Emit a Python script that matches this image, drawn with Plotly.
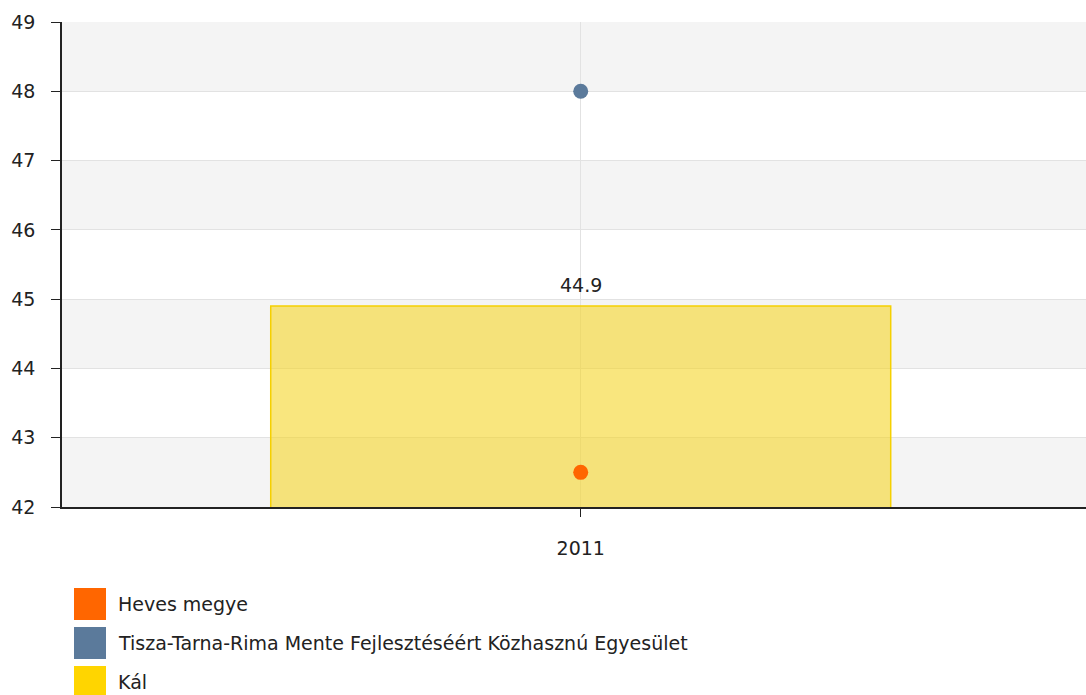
import plotly.graph_objects as go

# Data
years = ["2011"]
series_names = ["Heves megye", "Tisza-Tarna-Rima Mente Fejlesztéséért Közhasznú Egyesület", "Kál"]
heves = [42.5]
tisza = [48.0]
kal = [44.9]
colors = ["#FF6600", "#5B7A9B", "#FFD500"]
y_ticks = [42, 43, 44, 45, 46, 47, 48, 49]

x_pos = list(range(len(years)))
font_family = "DejaVu Sans, Verdana, sans-serif"

W, H = 1086, 695
L, T, B = 62, 22, 188
PW, PH = W - L, H - T - B


def px_x(px):
    return (px - L) / PW


def px_y(py):
    return (H - B - py) / PH


fig = go.Figure()

fig.add_trace(go.Bar(
    x=x_pos, y=kal, name=series_names[2], width=0.6,
    marker=dict(color="rgba(245,213,40,0.6)", line=dict(color="#F5D000", width=1.5)),
    showlegend=False,
))
fig.add_trace(go.Scatter(
    x=x_pos, y=heves, name=series_names[0], mode="markers",
    marker=dict(color=colors[0], size=15), showlegend=False,
))
fig.add_trace(go.Scatter(
    x=x_pos, y=tisza, name=series_names[1], mode="markers",
    marker=dict(color=colors[1], size=15), showlegend=False,
))

annotations = []
# value label above the bar
for xp, v in zip(x_pos, kal):
    annotations.append(dict(x=xp, y=v, xref="x", yref="y", text=f"{v:.1f}", showarrow=False,
                            yanchor="bottom", yshift=8,
                            font=dict(size=19, color="#222", family=font_family)))

# alternating background bands
shapes = []
for lo in y_ticks[:-1]:
    if (lo - y_ticks[0]) % 2 == 0:
        shapes.append(dict(type="rect", xref="paper", yref="y", x0=0, x1=1, y0=lo, y1=lo + 1,
                           fillcolor="#F4F4F4", line=dict(width=0), layer="below"))

# legend drawn as swatches with labels
for i, name in enumerate(series_names):
    yc = 604 + 39 * i
    shapes.append(dict(type="rect", xref="paper", yref="paper",
                       x0=px_x(74), x1=px_x(106),
                       y0=px_y(yc + 16), y1=px_y(yc - 16),
                       fillcolor=colors[i], line=dict(width=0)))
    annotations.append(dict(xref="paper", yref="paper", x=px_x(116), y=px_y(yc),
                            text=name, showarrow=False, xanchor="left", yanchor="middle",
                            font=dict(size=19, color="#222", family=font_family)))

fig.update_layout(
    width=W, height=H,
    margin=dict(l=L, r=0, t=T, b=B),
    paper_bgcolor="white", plot_bgcolor="white",
    shapes=shapes, annotations=annotations,
    showlegend=False,
    xaxis=dict(
        range=[-0.502, 0.489], tickvals=x_pos, ticktext=years,
        showgrid=True, gridcolor="#E2E2E2", gridwidth=1,
        showline=True, linecolor="#222", linewidth=1.5,
        ticks="outside", ticklen=8, tickcolor="#222",
        ticklabelstandoff=15,
        tickfont=dict(size=19, color="#222", family=font_family),
        zeroline=False, fixedrange=True,
    ),
    yaxis=dict(
        range=[42, 49], tickvals=y_ticks,
        showgrid=True, gridcolor="#E2E2E2", gridwidth=1,
        showline=True, linecolor="#222", linewidth=1.5,
        ticks="outside", ticklen=9, tickcolor="#222",
        ticklabelstandoff=12,
        tickfont=dict(size=19, color="#222", family=font_family),
        zeroline=False,
    ),
)

fig.write_html("out.html")
